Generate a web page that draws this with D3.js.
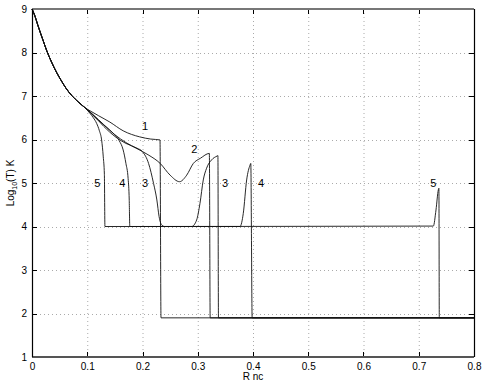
<!DOCTYPE html>
<html><head><meta charset="utf-8">
<script src="https://cdn.jsdelivr.net/npm/d3@7"></script>
<style>body{margin:0;background:#fff}svg{display:block}text{font-family:"Liberation Sans",Arial,sans-serif}</style>
</head><body><svg id="c" width="485" height="386"></svg>
<script>
const xTicks = [0,0.1,0.2,0.3,0.4,0.5,0.6,0.7,0.8];
const xTickLabels = ["0","0.1","0.2","0.3","0.4","0.5","0.6","0.7","0.8"];
const yTicks = [1,2,3,4,5,6,7,8,9];
const yTickLabels = ["1","2","3","4","5","6","7","8","9"];

// shared initial branch
const commonX = [0,0.005,0.01,0.015,0.02,0.027,0.035,0.045,0.055,0.062,0.072,0.084,0.096];
const commonY = [9.0,8.85,8.65,8.46,8.28,8.03,7.79,7.53,7.31,7.17,7.01,6.86,6.73];

const c1X = [0.105,0.12,0.141,0.165,0.195,0.215,0.2317,0.2335,0.8];
const c1Y = [6.66,6.55,6.40,6.20,6.06,6.01,5.99,1.9,1.9];

const c2X = [0.11,0.13,0.15,0.17,0.19,0.21,0.232,0.25,0.267,0.28,0.292,0.305,0.321,0.3225,0.8];
const c2Y = [6.58,6.34,6.11,5.93,5.79,5.65,5.45,5.18,5.03,5.18,5.45,5.57,5.68,1.9,1.9];

const c3X = [0.11,0.13,0.15,0.17,0.19,0.2,0.211,0.22,0.226,0.23,0.235,0.24,0.289,0.298,0.304,0.31,0.316,0.325,0.335,0.3365,0.3375,0.8];
const c3Y = [6.57,6.30,6.07,5.91,5.80,5.72,5.45,4.99,4.61,4.23,4.03,4.0,4.0,4.15,4.53,5.07,5.34,5.53,5.62,5.63,1.9,1.9];

const c4X = [0.105,0.12,0.135,0.147,0.158,0.165,0.170,0.174,0.176,0.177,0.3765,0.3824,0.3885,0.3946,0.396,0.3985,0.8];
const c4Y = [6.62,6.44,6.28,6.14,5.97,5.76,5.45,5.10,4.6,4.0,4.0,4.30,5.07,5.41,5.45,1.9,1.9];

const c5X = [0.105,0.111,0.117,0.122,0.126,0.129,0.131,0.132,0.7264,0.7312,0.7354,0.7365,0.7372,0.8];
const c5Y = [6.60,6.50,6.37,6.20,5.99,5.60,5.20,4.0,4.01,4.38,4.84,4.88,1.9,1.9];

const curveLabels = ["1","2","5","4","3","3","4","5"];
const curveLabelX = [0.2045,0.294,0.118,0.1635,0.2045,0.3493,0.4145,0.7264];
const curveLabelY = [6.31,5.78,4.99,4.99,4.99,4.99,4.99,4.99];

const svg = d3.select("#c");
const L=32,R=474,T=9,B=357;
const x = d3.scaleLinear().domain([0,0.8]).range([L,R]);
const y = d3.scaleLinear().domain([1,9]).range([B,T]);

// grid
const g = svg.append("g");
g.selectAll(".gx").data(xTicks.slice(1,-1)).enter().append("line")
 .attr("x1",d=>x(d)+0.5).attr("x2",d=>x(d)+0.5).attr("y1",T).attr("y2",B)
 .attr("stroke","#aaa").attr("stroke-width",1).attr("stroke-dasharray","1,3");
g.selectAll(".gy").data(yTicks.slice(1,-1)).enter().append("line")
 .attr("y1",d=>Math.round(y(d))+0.5).attr("y2",d=>Math.round(y(d))+0.5).attr("x1",L).attr("x2",R)
 .attr("stroke","#aaa").attr("stroke-width",1).attr("stroke-dasharray","1,3");

// curves
const line = d3.line().x(d=>x(d[0])).y(d=>y(d[1])).curve(d3.curveMonotoneX);
const common = commonX.map((v,i)=>[v,commonY[i]]);
const series = [[c1X,c1Y],[c2X,c2Y],[c3X,c3Y],[c4X,c4Y],[c5X,c5Y]];
series.forEach(([xs,ys])=>{
  const pts = common.concat(xs.map((v,i)=>[v,ys[i]]));
  svg.append("path").attr("d",line(pts)).attr("fill","none")
   .attr("stroke","#111").attr("stroke-width",0.9);
});

// axes (ticks inside, on all four sides)
const ax = d3.axisBottom(x).tickValues(xTicks).tickFormat((d,i)=>xTickLabels[i]).tickSize(0).tickPadding(6);
const axG = svg.append("g").attr("transform",`translate(0,${B})`).call(ax);
axG.select(".domain").remove();
axG.selectAll("text").attr("font-size",10).attr("fill","#000").attr("font-family","Liberation Sans, Arial, sans-serif");
const ay = d3.axisLeft(y).tickValues(yTicks).tickFormat((d,i)=>yTickLabels[i]).tickSize(0).tickPadding(5);
const ayG = svg.append("g").attr("transform",`translate(${L},0)`).call(ay);
ayG.select(".domain").remove();
ayG.selectAll("text").attr("font-size",10).attr("fill","#000").attr("font-family","Liberation Sans, Arial, sans-serif");

const tk = svg.append("g").attr("stroke","#000").attr("stroke-width",1);
xTicks.forEach(v=>{
  const px = Math.round(x(v))+0.5;
  tk.append("line").attr("x1",px).attr("x2",px).attr("y1",B).attr("y2",B-5);
  tk.append("line").attr("x1",px).attr("x2",px).attr("y1",T).attr("y2",T+5);
});
yTicks.forEach(v=>{
  const py = Math.round(y(v))+0.5;
  tk.append("line").attr("x1",L).attr("x2",L+5).attr("y1",py).attr("y2",py);
  tk.append("line").attr("x1",R).attr("x2",R-5).attr("y1",py).attr("y2",py);
});

// box
svg.append("line").attr("x1",L).attr("x2",R).attr("y1",T).attr("y2",T).attr("stroke","#777").attr("stroke-width",2);
svg.append("line").attr("x1",L).attr("x2",R).attr("y1",B).attr("y2",B).attr("stroke","#555").attr("stroke-width",2);
svg.append("line").attr("x1",L+0.5).attr("x2",L+0.5).attr("y1",T).attr("y2",B).attr("stroke","#000").attr("stroke-width",1.2);
svg.append("line").attr("x1",R+0.5).attr("x2",R+0.5).attr("y1",T).attr("y2",B).attr("stroke","#000").attr("stroke-width",1.2);

// curve labels
svg.selectAll(".cl").data(curveLabels).enter().append("text")
 .attr("x",(d,i)=>x(curveLabelX[i])).attr("y",(d,i)=>y(curveLabelY[i]))
 .attr("text-anchor","middle").attr("dominant-baseline","central")
 .attr("font-size",11).attr("fill","#000").text(d=>d);

// axis titles
svg.append("text").attr("x",(L+R)/2).attr("y",380).attr("text-anchor","middle")
 .attr("font-size",10).text("R nc");
const yl = svg.append("text").attr("transform",`translate(14,${(T+B)/2}) rotate(-90)`)
 .attr("text-anchor","middle").attr("font-size",10);
yl.append("tspan").text("Log");
yl.append("tspan").attr("font-size",7).attr("dy",3).text("10");
yl.append("tspan").attr("dy",-3).text("(T) K");
</script></body></html>
